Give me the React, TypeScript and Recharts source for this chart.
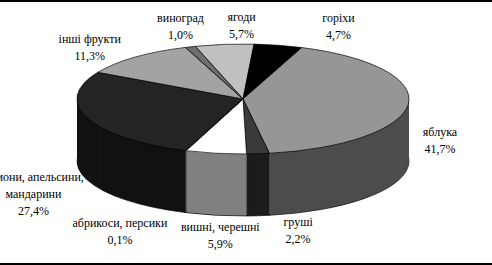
import React from "react";
import { PieChart, Pie, Cell } from "recharts";

// частки у структурі, %, по годинниковій стрілці від верху
const fruits = [
  "ягоди",
  "горіхи",
  "яблука",
  "груші",
  "вишні, черешні",
  "абрикоси, персики",
  "лимони, апельсини,\nмандарини",
  "інші фрукти",
  "виноград",
];
const shares = [5.7, 4.7, 41.7, 2.2, 5.9, 0.1, 27.4, 11.3, 1.0];

const topColors = ["#c0c0c0", "#000000", "#969696", "#3a3a3a", "#ffffff", "#dddddd", "#242424", "#a3a3a3", "#6e6e6e"];
const wallColors = ["#8c8c8c", "#000000", "#4d4d4d", "#1c1c1c", "#808080", "#777777", "#121212", "#707070", "#404040"];

// small shifts so the labels sit where Excel put them
const labelNudge = [
  [21, 1],
  [53, 1],
  [-2, -28],
  [37, -5],
  [10, 1],
  [-54, 0],
  [-22, 7],
  [-23, 5],
  [1, -1],
];

const data = fruits.map((name, i) => ({ name, value: shares[i] }));

const W = 492;
const H = 265;
const CX = 243;
const CY = 99;
const RX = 166;
const RY = 55;
const DEPTH = 62;
const START = 106.7;
const SCALE = RY / RX;
const PRE_CY = CY / SCALE;
const PRE_H = Math.ceil((CY + DEPTH) / SCALE + RX + 10);
const FONT = "'Liberation Serif', 'Times New Roman', serif";

const fmt = (v: number) => v.toFixed(1).replace(".", ",") + "%";

// wall layers, bottom first
const layers = Array.from({ length: DEPTH }, (_, i) => DEPTH - i);

const renderLabel = (p: any) => {
  const a = (p.midAngle * Math.PI) / 180;
  const s = Math.sin(a);
  const [nx, ny] = labelNudge[p.index];
  const x = CX + 200 * Math.cos(a) + nx;
  const y = CY - 75 * s + (s < 0 ? DEPTH : 0) + ny;
  const name = String(p.payload?.name ?? p.name);
  const lines = [...name.split("\n"), fmt(p.value)];
  const lh = 17;
  const y0 = y - ((lines.length - 1) * lh) / 2 + 4;
  return (
    <text key={"l" + p.index} x={x} y={y0} textAnchor="middle" fontFamily={FONT} fontSize={12} fill="#000">
      {lines.map((t, j) => (
        <tspan key={j} x={x} dy={j ? lh : 0}>
          {t}
        </tspan>
      ))}
    </text>
  );
};

export default function App() {
  return (
    <div
      style={{
        position: "absolute",
        left: 0,
        top: 0,
        width: W,
        height: H,
        overflow: "hidden",
        background: "#fff",
      }}
    >
      <style>{".pie3d path{vector-effect:non-scaling-stroke}"}</style>
      <div
        className="pie3d"
        style={{
          position: "absolute",
          left: 0,
          top: 0,
          width: W,
          height: PRE_H,
          transform: `scaleY(${SCALE})`,
          transformOrigin: "0 0",
        }}
      >
        <PieChart width={W} height={PRE_H} margin={{ top: 0, right: 0, bottom: 0, left: 0 }}>
          {layers.map((k) => (
            <Pie
              key={"w" + k}
              data={data}
              dataKey="value"
              nameKey="name"
              cx={CX}
              cy={PRE_CY + k / SCALE}
              outerRadius={RX}
              startAngle={START}
              endAngle={START - 360}
              isAnimationActive={false}
            >
              {data.map((d, i) => (
                <Cell
                  key={i}
                  fill={wallColors[i]}
                  stroke={k === DEPTH ? "#000" : "none"}
                  strokeWidth={1}
                />
              ))}
            </Pie>
          ))}
          <Pie
            data={data}
            dataKey="value"
            nameKey="name"
            cx={CX}
            cy={PRE_CY}
            outerRadius={RX}
            startAngle={START}
            endAngle={START - 360}
            isAnimationActive={false}
          >
            {data.map((d, i) => (
              <Cell key={i} fill={topColors[i]} stroke="#000" strokeWidth={1} />
            ))}
          </Pie>
        </PieChart>
      </div>
      <div style={{ position: "absolute", left: 0, top: 0 }}>
        <PieChart width={W} height={H} margin={{ top: 0, right: 0, bottom: 0, left: 0 }}>
          <Pie
            data={data}
            dataKey="value"
            nameKey="name"
            cx={CX}
            cy={CY}
            outerRadius={RX}
            startAngle={START}
            endAngle={START - 360}
            isAnimationActive={false}
            fill="none"
            stroke="none"
            label={renderLabel}
            labelLine={false}
          >
            {data.map((d, i) => (
              <Cell key={i} fill="none" stroke="none" />
            ))}
          </Pie>
        </PieChart>
      </div>
      <div style={{ position: "absolute", left: 0, top: 0, width: W, height: 2, background: "#000" }} />
      <div style={{ position: "absolute", left: 0, top: H - 2, width: W, height: 2, background: "#000" }} />
    </div>
  );
}
